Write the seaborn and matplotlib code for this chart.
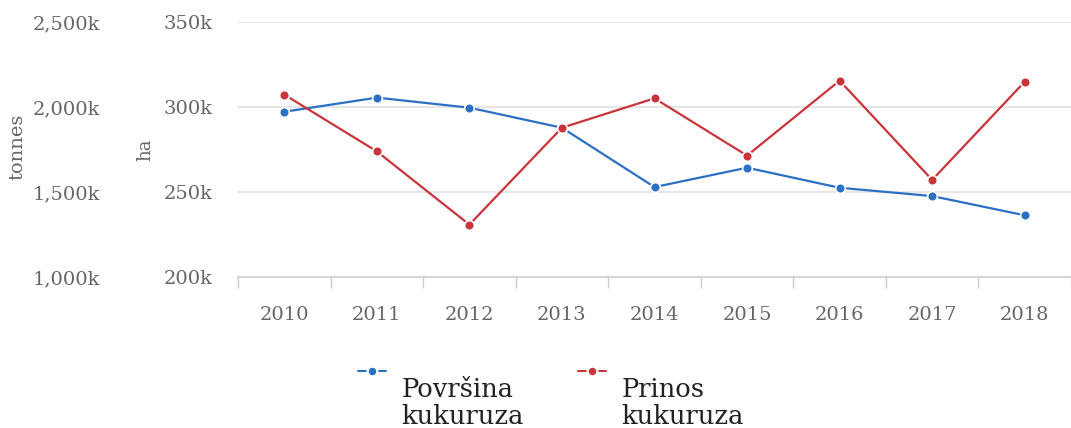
import matplotlib
matplotlib.use("Agg")
import matplotlib.pyplot as plt
import matplotlib.ticker as mticker
from matplotlib.lines import Line2D
from matplotlib.legend_handler import HandlerLine2D
import numpy as np
import pandas as pd
import seaborn as sns

# values
years = [2010, 2011, 2012, 2013, 2014, 2015, 2016, 2017, 2018]
area_ha = [297200, 305500, 299600, 287800, 252900, 264300, 252500, 247600, 236300]
yield_t = [2073000, 1739000, 1308000, 1878000, 2051000, 1714000, 2155000, 1571000, 2149000]
area_label = "Površina\nkukuruza"
yield_label = "Prinos\nkukuruza"

blue = "#2b70c4"
red = "#c9343b"
grey = "#666666"

sns.set_style("white")
plt.rcParams["font.family"] = ["DejaVu Serif"]

df = pd.DataFrame({"year": years, "ha": area_ha, "tonnes": yield_t})

fig = plt.figure(figsize=(10.71, 4.28), dpi=100)
ax = fig.add_axes([238 / 1071, 151 / 428, 1 - 238 / 1071, 255 / 428])
ax2 = ax.twinx()

style = dict(lw=1.6, marker="o", markersize=7, markeredgecolor="white",
             markeredgewidth=1.2, zorder=3, clip_on=False)
sns.lineplot(data=df, x="year", y="ha", ax=ax, color=blue, **style)
sns.lineplot(data=df, x="year", y="tonnes", ax=ax2, color=red, **style)

ax.set_xlim(2009.5, 2018.41)
ax.set_ylim(200000, 350000)
ax2.set_ylim(1000000, 2500000)

ax.set_yticks([200000, 250000, 300000, 350000])
ax2.set_yticks([1000000, 1500000, 2000000, 2500000])
fmt = mticker.FuncFormatter(lambda v, p: f"{v / 1000:,.0f}k")
ax.yaxis.set_major_formatter(fmt)
ax2.yaxis.set_major_formatter(fmt)

# both value axes sit on the left
ax2.yaxis.set_ticks_position("left")
ax2.yaxis.set_label_position("left")
ax.tick_params(axis="y", length=0, pad=18, labelsize=14, labelcolor=grey)
ax2.tick_params(axis="y", length=0, pad=99, labelsize=14, labelcolor=grey)

ax.set_xticks(years)
ax.set_xticks([y - 0.5 for y in years] + [2018.5], minor=True)
ax.tick_params(axis="x", which="major", length=0, pad=21, labelsize=14, labelcolor=grey)
ax.tick_params(axis="x", which="minor", length=8, width=1, color="#cccccc", direction="out")
ax.xaxis.set_ticks_position("bottom")

ax.grid(axis="y", color="#e6e6e6", lw=1.5)
ax2.grid(False)
for a in (ax, ax2):
    for s in a.spines.values():
        s.set_visible(False)
ax.spines["bottom"].set_visible(True)
ax.spines["bottom"].set_color("#d6d6d6")
ax.spines["bottom"].set_linewidth(1.5)

ax.set_xlabel("")
ax.set_ylabel("ha", fontsize=13, color=grey)
ax2.set_ylabel("tonnes", fontsize=14, color=grey)
ax.yaxis.set_label_coords(-0.10, 0.5)
ax2.yaxis.set_label_coords(-0.254, 0.51)


class TopHandler(HandlerLine2D):
    # put the legend marker level with the first text line
    def create_artists(self, *args, **kwargs):
        arts = super().create_artists(*args, **kwargs)
        for a in arts:
            a.set_ydata(np.asarray(a.get_ydata()) + 24)
        return arts


handles = [
    Line2D([], [], color=blue, lw=1.5, marker="o", markersize=7,
           markeredgecolor="white", markeredgewidth=1.6),
    Line2D([], [], color=red, lw=1.5, marker="o", markersize=7,
           markeredgecolor="white", markeredgewidth=1.6),
]
fig.legend(handles, [area_label, yield_label], loc="upper left",
           bbox_to_anchor=(358 / 1071, 1 - 377 / 428), ncol=2, frameon=False,
           fontsize=18.5, handlelength=1.1, handletextpad=0.6, columnspacing=2.1,
           labelspacing=0.1, borderaxespad=0, borderpad=0,
           handler_map={Line2D: TopHandler()})
for t in fig.legends[0].get_texts():
    t.set_color("#222222")
    t.set_linespacing(1.12)

fig.savefig("out.png", dpi=100)
